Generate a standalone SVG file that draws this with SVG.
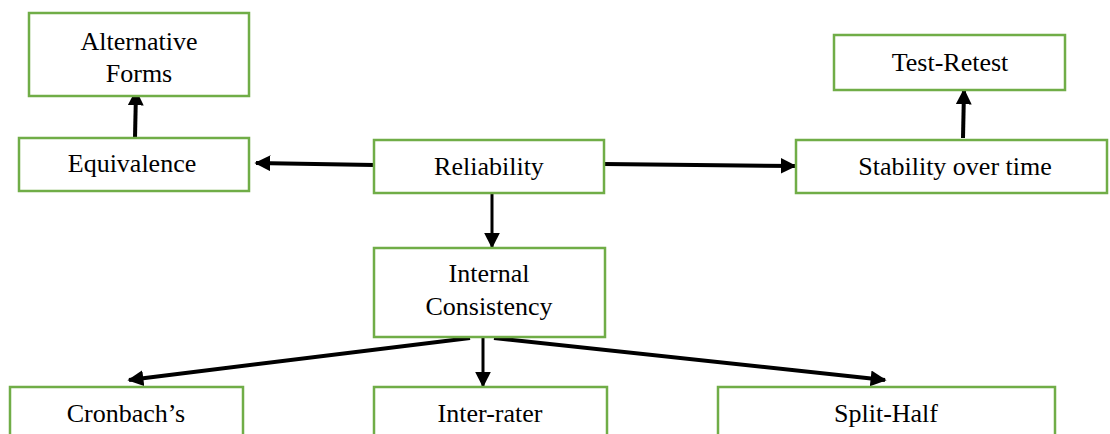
<svg xmlns="http://www.w3.org/2000/svg" width="1110" height="434" viewBox="0 0 1110 434">
<defs>
<style>
.box{fill:#fff;stroke:#70ad47;stroke-width:2.5}
.lbl{font-family:"Liberation Serif","Times New Roman",serif;font-size:26px;fill:#000;text-anchor:middle}
.con{stroke:#000;stroke-width:4;fill:none;marker-end:url(#ah)}
.thin{stroke-width:3}
</style>
<marker id="ah" viewBox="0 0 10 10" refX="9" refY="5" markerUnits="userSpaceOnUse" markerWidth="16" markerHeight="16" orient="auto">
<path d="M0,0 L10,5 L0,10 Z" fill="#000"/>
</marker>
</defs>
<rect width="1110" height="434" fill="#fff"/>
<g id="connectors">
<line class="con" x1="374" y1="165" x2="256" y2="163"/>
<line class="con" x1="604" y1="164" x2="795" y2="166"/>
<line class="con" x1="135" y1="138" x2="136" y2="91"/>
<line class="con" x1="963" y1="138" x2="964" y2="90"/>
<line class="con thin" x1="492" y1="193" x2="492" y2="247"/>
<line class="con" x1="470" y1="338" x2="129" y2="380"/>
<line class="con thin" x1="483" y1="338" x2="483" y2="386"/>
<line class="con" x1="494" y1="338" x2="885" y2="380"/>
</g>
<g id="alternative-forms"><rect class="box" x="29" y="13" width="220" height="83"/><text class="lbl" x="139" y="50">Alternative</text><text class="lbl" x="139" y="82">Forms</text></g>
<g id="equivalence"><rect class="box" x="19" y="138" width="230" height="53"/><text class="lbl" x="132" y="172">Equivalence</text></g>
<g id="reliability"><rect class="box" x="374" y="140" width="230" height="53"/><text class="lbl" x="489" y="175">Reliability</text></g>
<g id="stability"><rect class="box" x="796" y="140" width="311" height="53"/><text class="lbl" x="955" y="175">Stability over time</text></g>
<g id="test-retest"><rect class="box" x="834" y="35" width="231" height="55"/><text class="lbl" x="950" y="71">Test-Retest</text></g>
<g id="internal-consistency"><rect class="box" x="374" y="248" width="231" height="89"/><text class="lbl" x="489" y="282">Internal</text><text class="lbl" x="489" y="315">Consistency</text></g>
<g id="cronbach"><rect class="box" x="10" y="387" width="233" height="60"/><text class="lbl" x="126" y="422">Cronbach’s</text></g>
<g id="inter-rater"><rect class="box" x="374" y="387" width="233" height="60"/><text class="lbl" x="490" y="422">Inter-rater</text></g>
<g id="split-half"><rect class="box" x="718" y="387" width="337" height="60"/><text class="lbl" x="886" y="422">Split-Half</text></g>
</svg>
